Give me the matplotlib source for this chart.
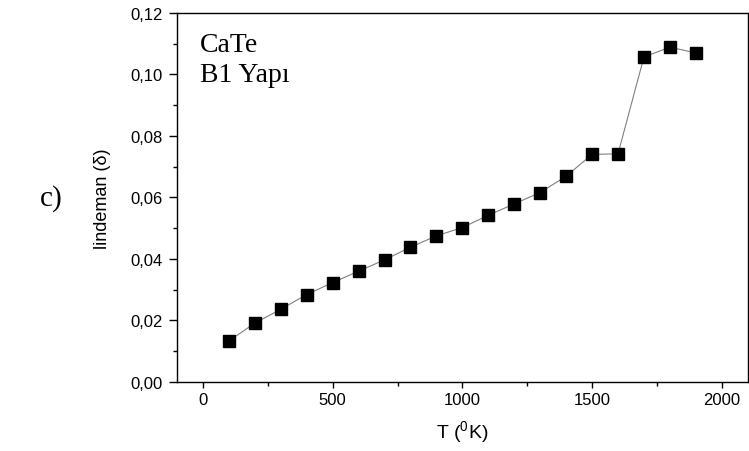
import matplotlib
matplotlib.use("Agg")
import matplotlib.pyplot as plt
from matplotlib.ticker import MultipleLocator, FuncFormatter

T = [100, 200, 300, 400, 500, 600, 700, 800, 900, 1000, 1100, 1200, 1300, 1400, 1500, 1600, 1700, 1800, 1900]
lindeman = [0.0133, 0.0191, 0.0236, 0.0284, 0.0323, 0.0360, 0.0397, 0.0438, 0.0475, 0.0502,
            0.0542, 0.0579, 0.0616, 0.0669, 0.0740, 0.0742, 0.1057, 0.1089, 0.1070]

plt.rcParams['font.family'] = ['Liberation Sans', 'DejaVu Sans']
plt.rcParams['mathtext.fontset'] = 'custom'
plt.rcParams['mathtext.rm'] = 'Liberation Sans'

fig = plt.figure(figsize=(7.49, 4.52), dpi=100)
ax = fig.add_axes([0.2363, 0.153, 0.762, 0.816])

ax.plot(T, lindeman, color='#808080', lw=0.8, marker='s', markersize=8.5,
        markerfacecolor='black', markeredgecolor='black', zorder=3)

ax.set_xlim(-100, 2100)
ax.set_ylim(0, 0.12)
ax.xaxis.set_major_locator(MultipleLocator(500))
ax.xaxis.set_minor_locator(MultipleLocator(250))
ax.yaxis.set_major_locator(MultipleLocator(0.02))
ax.yaxis.set_minor_locator(MultipleLocator(0.01))
ax.yaxis.set_major_formatter(FuncFormatter(lambda v, p: f"{v:.2f}".replace('.', ',')))
ax.xaxis.set_major_formatter(FuncFormatter(lambda v, p: f"{int(round(v))}"))

ax.tick_params(axis='y', which='major', direction='out', length=6, width=1, labelsize=12, pad=4)
ax.tick_params(axis='x', which='major', direction='out', length=4.5, width=1, labelsize=12, pad=3)
ax.tick_params(which='minor', direction='out', length=3, width=1)
ax.tick_params(top=False, right=False, which='both')
for s in ax.spines.values():
    s.set_linewidth(1.0)

ax.set_xlabel(r'T ($\mathregular{^0}$K)', fontsize=14, labelpad=8)
ax.set_ylabel('lindeman (δ)', fontsize=13, labelpad=14)

serif = ['Liberation Serif', 'DejaVu Serif']
ax.text(0.040, 0.897, 'CaTe', transform=ax.transAxes, fontsize=20,
        family=serif, va='baseline', ha='left')
ax.text(0.040, 0.816, 'B1 Yapı', transform=ax.transAxes, fontsize=20,
        family=serif, va='baseline', ha='left')

fig.text(0.053, 0.56, 'c)', fontsize=21, family=serif, ha='left', va='center')

fig.savefig('out.png', dpi=100)
